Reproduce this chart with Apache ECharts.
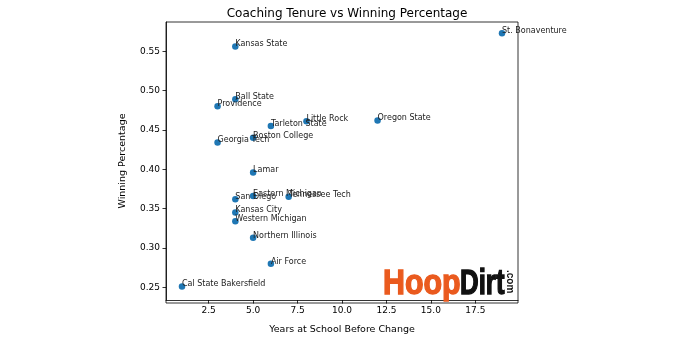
<!DOCTYPE html>
<html>
<head>
<meta charset="utf-8">
<script src="https://cdn.jsdelivr.net/npm/echarts@6/dist/echarts.min.js"></script>
<style>html,body{margin:0;padding:0;background:#fff}#c{width:690px;height:340px}</style>
</head>
<body>
<div id="c"></div>
<script>
const schools = ["Kansas State","Ball State","Providence","Little Rock","Tarleton State","Boston College","Georgia Tech","Lamar","Eastern Michigan","San Diego","Tennessee Tech","Kansas City","Western Michigan","Northern Illinois","Air Force","Cal State Bakersfield","Oregon State","St. Bonaventure"];
const years = [4,4,3,8,6,5,3,5,5,4,7,4,4,5,6,1,12,19];
const winPct = [0.556,0.489,0.480,0.461,0.455,0.440,0.434,0.396,0.366,0.362,0.365,0.345,0.334,0.313,0.280,0.251,0.462,0.573];
const xTicks = [2.5,5.0,7.5,10.0,12.5,15.0,17.5];
const yTicks = [0.25,0.30,0.35,0.40,0.45,0.50,0.55];

const F = 'DejaVu Sans';
const data = schools.map((s,i)=>[years[i], winPct[i], s]);
const chart = echarts.init(document.getElementById('c'), null, {renderer:'canvas'});
chart.setOption({
  animation:false,
  backgroundColor:'#fff',
  title:{text:'Coaching Tenure vs Winning Percentage', left:342, textAlign:'center', top:3,
    textStyle:{fontFamily:F, fontSize:12, fontWeight:'normal', color:'#000'}},
  grid:{left:166, right:172, top:22, bottom:37},
  xAxis:{type:'value', min:0.1, max:19.9,
    name:'Years at School Before Change', nameLocation:'middle', nameGap:25,
    nameTextStyle:{fontFamily:F, fontSize:9.5, color:'#000'},
    axisLine:{show:true, onZero:false, lineStyle:{color:'#000', width:0.8}},
    axisTick:{show:true, length:3.5, lineStyle:{color:'#000', width:0.8}, customValues:xTicks},
    axisLabel:{fontFamily:F, fontSize:9, color:'#000', margin:6, customValues:xTicks, formatter:v=>Number(v).toFixed(1)},
    splitLine:{show:false}},
  yAxis:{type:'value', min:0.2339, max:0.5872,
    name:'Winning Percentage', nameLocation:'middle', nameGap:38, nameRotate:90,
    nameTextStyle:{fontFamily:F, fontSize:9.5, color:'#000'},
    axisLine:{show:true, onZero:false, lineStyle:{color:'#000', width:0.8}},
    axisTick:{show:true, length:3.5, lineStyle:{color:'#000', width:0.8}, customValues:yTicks},
    axisLabel:{fontFamily:F, fontSize:9, color:'#000', margin:6, customValues:yTicks, formatter:v=>Number(v).toFixed(2)},
    splitLine:{show:false}},
  graphic:[
    {type:'rect', shape:{x:166, y:22, width:352, height:281}, style:{fill:'none', stroke:'#000', lineWidth:0.8}, z:1, silent:true},
    {type:'text', x:383, y:285, scaleX:0.8, scaleY:0.9, style:{text:'Hoop', font:'900 38px "Liberation Sans"', fill:'#ea5a1e', textVerticalAlign:'middle', stroke:'#ea5a1e', lineWidth:1.5}, z:10},
    {type:'text', x:460, y:285, scaleX:0.68, scaleY:0.9, style:{text:'Dirt', font:'900 38px "Liberation Sans"', fill:'#111', textVerticalAlign:'middle', stroke:'#111', lineWidth:1.5}, z:10},
    {type:'text', x:510, y:270, rotation:-Math.PI/2, style:{text:'.com', font:'bold 10px "Liberation Sans"', fill:'#111', textVerticalAlign:'middle'}, z:10}
  ],
  series:[{
    type:'scatter', data:data, symbolSize:6.5,
    itemStyle:{color:'#1f77b4', opacity:1},
    label:{show:true, position:[3.25,1], align:'left', verticalAlign:'middle',
      formatter:p=>p.data[2], fontFamily:F, fontSize:8, color:'#222'},
    labelLayout:{hideOverlap:false}
  }]
});
</script>
</body>
</html>
